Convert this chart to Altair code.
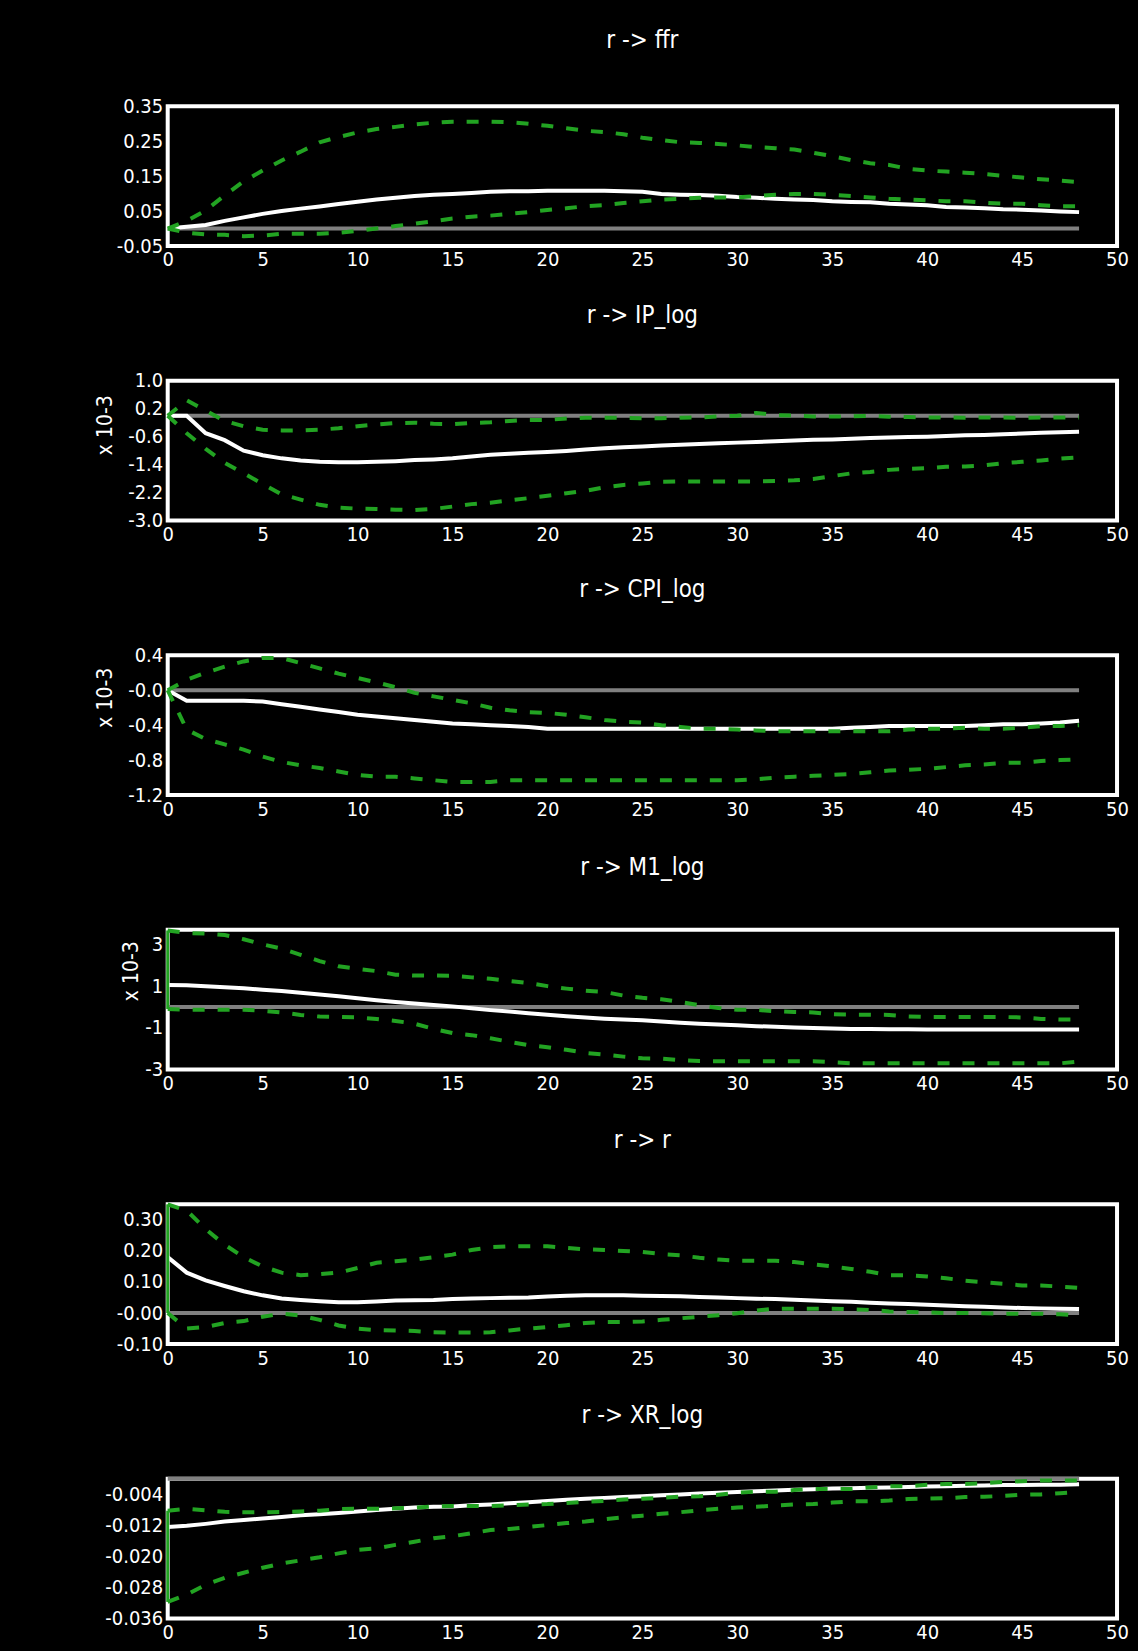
import altair as alt
import pandas as pd

HORIZON = list(range(49))
X_TICKS = [0, 5, 10, 15, 20, 25, 30, 35, 40, 45, 50]

PANEL_TITLES = ["r -> ffr", "r -> IP_log", "r -> CPI_log", "r -> M1_log", "r -> r", "r -> XR_log"]
UNIT_TITLES = ["", "x 10-3", "x 10-3", "x 10-3", "", ""]

FFR_IRF = [0.0, 0.005, 0.01, 0.022, 0.032, 0.042, 0.05, 0.057, 0.063, 0.07, 0.077, 0.083, 0.088, 0.093, 0.097, 0.099, 0.102, 0.105, 0.107, 0.107, 0.108, 0.108, 0.108,
           0.108, 0.107, 0.105, 0.099, 0.097, 0.096, 0.094, 0.090, 0.088, 0.085, 0.083, 0.082, 0.078, 0.076, 0.075, 0.071, 0.069, 0.067, 0.062, 0.06, 0.058, 0.055, 0.054, 0.052, 0.049, 0.047]
FFR_HI = [0.0, 0.022, 0.052, 0.095, 0.135, 0.166, 0.195, 0.22, 0.247, 0.262, 0.275, 0.285, 0.291, 0.298, 0.303, 0.306, 0.306, 0.306, 0.304, 0.3, 0.294, 0.287, 0.28,
          0.276, 0.27, 0.26, 0.253, 0.247, 0.245, 0.242, 0.238, 0.233, 0.23, 0.226, 0.217, 0.207, 0.196, 0.187, 0.182, 0.171, 0.166, 0.163, 0.16, 0.156, 0.151, 0.146, 0.141, 0.137, 0.133]
FFR_LO = [0.0, -0.012, -0.017, -0.018, -0.022, -0.02, -0.015, -0.015, -0.015, -0.012, -0.007, 0.0, 0.007, 0.014, 0.021, 0.029, 0.034, 0.037, 0.042, 0.047, 0.053, 0.058, 0.064,
          0.067, 0.073, 0.078, 0.083, 0.085, 0.088, 0.089, 0.089, 0.093, 0.097, 0.099, 0.099, 0.097, 0.093, 0.089, 0.085, 0.083, 0.081, 0.078, 0.078, 0.074, 0.071, 0.071, 0.067, 0.064, 0.064]

IP_IRF = [0.0, 0.0, -0.5, -0.7, -1.0, -1.13, -1.22, -1.28, -1.32, -1.33, -1.33, -1.32, -1.3, -1.27, -1.25, -1.22, -1.17, -1.12, -1.09, -1.06, -1.04, -1.01, -0.97,
          -0.93, -0.9, -0.88, -0.85, -0.83, -0.81, -0.79, -0.77, -0.75, -0.73, -0.71, -0.69, -0.68, -0.66, -0.64, -0.62, -0.61, -0.6, -0.58, -0.56, -0.55, -0.53, -0.51, -0.49, -0.47, -0.46]
IP_HI = [0.0, 0.44, 0.15, -0.15, -0.3, -0.4, -0.42, -0.42, -0.4, -0.36, -0.3, -0.25, -0.21, -0.2, -0.23, -0.24, -0.21, -0.19, -0.15, -0.12, -0.12, -0.08, -0.06,
         -0.06, -0.06, -0.07, -0.07, -0.06, -0.05, -0.02, 0.0, 0.08, 0.02, 0.0, -0.02, -0.02, -0.02, 0.0, -0.03, -0.04, -0.05, -0.05, -0.06, -0.05, -0.05, -0.06, -0.05, -0.05, -0.05]
IP_LO = [0.0, -0.5, -0.95, -1.35, -1.65, -1.95, -2.25, -2.4, -2.55, -2.63, -2.66, -2.67, -2.69, -2.7, -2.67, -2.6, -2.53, -2.49, -2.42, -2.36, -2.29, -2.22, -2.15,
         -2.05, -1.98, -1.94, -1.89, -1.88, -1.88, -1.88, -1.88, -1.88, -1.87, -1.85, -1.81, -1.73, -1.65, -1.61, -1.55, -1.52, -1.5, -1.46, -1.45, -1.42, -1.36, -1.32, -1.28, -1.23, -1.19]

CPI_IRF = [0.0, -0.12, -0.12, -0.12, -0.12, -0.13, -0.16, -0.19, -0.22, -0.25, -0.28, -0.3, -0.32, -0.34, -0.36, -0.38, -0.39, -0.4, -0.41, -0.42, -0.44, -0.44, -0.44,
           -0.44, -0.44, -0.44, -0.44, -0.44, -0.44, -0.44, -0.44, -0.44, -0.44, -0.44, -0.44, -0.44, -0.43, -0.42, -0.41, -0.41, -0.41, -0.41, -0.41, -0.4, -0.39, -0.39, -0.38, -0.37, -0.35]
CPI_HI = [0.0, 0.12, 0.2, 0.27, 0.33, 0.37, 0.37, 0.31, 0.25, 0.19, 0.14, 0.09, 0.035, -0.03, -0.07, -0.11, -0.15, -0.2, -0.23, -0.25, -0.26, -0.28, -0.31,
          -0.34, -0.36, -0.37, -0.4, -0.42, -0.44, -0.44, -0.45, -0.46, -0.47, -0.47, -0.47, -0.47, -0.47, -0.47, -0.47, -0.45, -0.44, -0.44, -0.43, -0.44, -0.44, -0.43, -0.41, -0.41, -0.4]
CPI_LO = [0.0, -0.45, -0.56, -0.62, -0.68, -0.76, -0.82, -0.86, -0.89, -0.93, -0.97, -0.99, -0.99, -1.01, -1.03, -1.05, -1.05, -1.05, -1.03, -1.03, -1.03, -1.03, -1.03,
          -1.03, -1.03, -1.03, -1.03, -1.03, -1.03, -1.03, -1.03, -1.02, -1.0, -0.99, -0.98, -0.97, -0.96, -0.94, -0.92, -0.91, -0.9, -0.88, -0.86, -0.85, -0.83, -0.83, -0.81, -0.8, -0.79]

M1_IRF = [1.05, 1.04, 1.0, 0.95, 0.9, 0.83, 0.77, 0.68, 0.6, 0.52, 0.42, 0.32, 0.24, 0.17, 0.1, 0.03, -0.06, -0.15, -0.22, -0.3, -0.37, -0.44, -0.5,
          -0.56, -0.6, -0.64, -0.7, -0.75, -0.8, -0.84, -0.88, -0.92, -0.95, -0.98, -1.01, -1.03, -1.05, -1.06, -1.07, -1.07, -1.08, -1.08, -1.08, -1.08, -1.08, -1.08, -1.08, -1.08, -1.08]
M1_HI = [3.67, 3.55, 3.52, 3.45, 3.25, 3.0, 2.8, 2.5, 2.2, 1.95, 1.83, 1.72, 1.55, 1.51, 1.51, 1.5, 1.42, 1.35, 1.25, 1.15, 1.0, 0.88, 0.78,
         0.72, 0.55, 0.44, 0.37, 0.24, 0.09, -0.05, -0.13, -0.14, -0.2, -0.24, -0.26, -0.35, -0.37, -0.37, -0.38, -0.45, -0.48, -0.48, -0.48, -0.48, -0.48, -0.5, -0.57, -0.6, -0.6]
M1_LO = [-0.1, -0.13, -0.13, -0.13, -0.13, -0.18, -0.26, -0.38, -0.46, -0.48, -0.5, -0.58, -0.67, -0.8, -1.05, -1.25, -1.35, -1.5, -1.67, -1.83, -1.93, -2.05, -2.2,
         -2.28, -2.38, -2.46, -2.48, -2.55, -2.59, -2.6, -2.6, -2.6, -2.6, -2.6, -2.6, -2.65, -2.7, -2.7, -2.7, -2.7, -2.7, -2.7, -2.7, -2.7, -2.7, -2.7, -2.7, -2.7, -2.62]

R_IRF = [0.18, 0.13, 0.105, 0.087, 0.07, 0.057, 0.047, 0.042, 0.038, 0.035, 0.035, 0.037, 0.04, 0.041, 0.042, 0.045, 0.047, 0.048, 0.049, 0.05, 0.053, 0.056, 0.057,
         0.057, 0.057, 0.056, 0.055, 0.054, 0.052, 0.05, 0.048, 0.046, 0.045, 0.043, 0.04, 0.038, 0.036, 0.033, 0.031, 0.029, 0.027, 0.024, 0.022, 0.02, 0.018, 0.016, 0.015, 0.014, 0.013]
R_HI = [0.35, 0.33, 0.27, 0.22, 0.18, 0.15, 0.13, 0.122, 0.125, 0.13, 0.145, 0.162, 0.167, 0.172, 0.18, 0.188, 0.203, 0.212, 0.215, 0.215, 0.215, 0.21, 0.205,
        0.203, 0.2, 0.197, 0.19, 0.186, 0.178, 0.172, 0.168, 0.168, 0.168, 0.164, 0.157, 0.15, 0.142, 0.133, 0.122, 0.122, 0.118, 0.112, 0.104, 0.099, 0.094, 0.089, 0.089, 0.085, 0.081]
R_LO = [0.0, -0.05, -0.045, -0.032, -0.026, -0.012, -0.002, -0.008, -0.022, -0.04, -0.05, -0.055, -0.056, -0.058, -0.062, -0.063, -0.063, -0.062, -0.056, -0.05, -0.045, -0.039, -0.032,
        -0.029, -0.029, -0.027, -0.022, -0.017, -0.012, -0.007, -0.001, 0.008, 0.014, 0.014, 0.014, 0.014, 0.012, 0.01, 0.005, 0.003, 0.002, 0.0, 0.0, -0.001, -0.002, -0.002, -0.002, -0.004, -0.008]

XR_IRF = [-0.0124, -0.0121, -0.0116, -0.011, -0.0106, -0.0102, -0.0098, -0.0094, -0.0091, -0.0088, -0.0084, -0.008, -0.0077, -0.0074, -0.0072, -0.0071, -0.0068, -0.0066, -0.0063, -0.006, -0.0057, -0.0054, -0.0051,
          -0.0049, -0.0047, -0.0045, -0.0042, -0.004, -0.0038, -0.0036, -0.0034, -0.0032, -0.003, -0.0028, -0.0027, -0.0025, -0.0024, -0.0023, -0.0022, -0.0021, -0.002, -0.0019, -0.0018, -0.0017, -0.0016, -0.0016, -0.0015, -0.0015, -0.0014]
XR_HI = [-0.0082, -0.0077, -0.0081, -0.0085, -0.0086, -0.0086, -0.0085, -0.0084, -0.0082, -0.0078, -0.0077, -0.0077, -0.0076, -0.0074, -0.0071, -0.007, -0.007, -0.007, -0.0068, -0.0066, -0.0065, -0.0062, -0.0059,
         -0.0057, -0.0053, -0.0051, -0.0049, -0.0046, -0.0045, -0.0041, -0.0036, -0.0033, -0.0033, -0.0029, -0.0026, -0.0026, -0.0026, -0.0022, -0.0019, -0.0019, -0.0015, -0.0013, -0.0013, -0.0011, -0.0008, -0.0006, -0.0004, -0.0004, -0.0004]
XR_LO = [-0.0317, -0.0298, -0.0273, -0.0255, -0.0242, -0.0229, -0.0218, -0.021, -0.0202, -0.0192, -0.0183, -0.0179, -0.017, -0.0162, -0.0153, -0.0148, -0.014, -0.0132, -0.0129, -0.0124, -0.0119, -0.0114, -0.011,
         -0.0104, -0.0099, -0.0095, -0.009, -0.0086, -0.0081, -0.0077, -0.0074, -0.0072, -0.0069, -0.0066, -0.0065, -0.0061, -0.0058, -0.0058, -0.0056, -0.0052, -0.0051, -0.005, -0.0047, -0.0046, -0.0044, -0.0041, -0.004, -0.0037, -0.0034]

Y_DOMAINS = [[-0.05, 0.35], [-3.0, 1.0], [-1.2, 0.4], [-3.0, 3.7], [-0.10, 0.35], [-0.036, 0.0]]
Y_TICKS = [
    [0.35, 0.25, 0.15, 0.05, -0.05],
    [1.0, 0.2, -0.6, -1.4, -2.2, -3.0],
    [0.4, 0.0, -0.4, -0.8, -1.2],
    [3, 1, -1, -3],
    [0.30, 0.20, 0.10, 0.0, -0.10],
    [-0.004, -0.012, -0.020, -0.028, -0.036],
]
Y_TICK_LABELS = [
    ["0.35", "0.25", "0.15", "0.05", "-0.05"],
    ["1.0", "0.2", "-0.6", "-1.4", "-2.2", "-3.0"],
    ["0.4", "-0.0", "-0.4", "-0.8", "-1.2"],
    ["3", "1", "-1", "-3"],
    ["0.30", "0.20", "0.10", "-0.00", "-0.10"],
    ["-0.004", "-0.012", "-0.020", "-0.028", "-0.036"],
]

IRFS = [FFR_IRF, IP_IRF, CPI_IRF, M1_IRF, R_IRF, XR_IRF]
HIS = [FFR_HI, IP_HI, CPI_HI, M1_HI, R_HI, XR_HI]
LOS = [FFR_LO, IP_LO, CPI_LO, M1_LO, R_LO, XR_LO]

UNIT_POS = [None, (-62, 44), (-62, 42), (-36, 41), None, None]

GREEN = "#22a322"
GRAY = "#808080"
FONT = "Liberation Sans Narrow, DejaVu Sans Condensed, Arial Narrow, sans-serif"
W, H = 951, 140


def label_expr(ticks, labels):
    expr = "''"
    for v, s in reversed(list(zip(ticks, labels))):
        expr = f"(abs(datum.value - ({v})) < 1e-9) ? '{s}' : ({expr})"
    return expr


def panel(i):
    df = pd.DataFrame({"h": HORIZON, "irf": IRFS[i], "lo": LOS[i], "hi": HIS[i]})
    x_axis = alt.Axis(values=X_TICKS, title="", grid=False, domain=False, ticks=False,
                      labelPadding=4, labelFlush=False, labelOverlap=False)
    y_kw = dict(values=Y_TICKS[i], labelExpr=label_expr(Y_TICKS[i], Y_TICK_LABELS[i]),
                grid=False, domain=False, ticks=False, labelPadding=5, labelOverlap=False)
    if UNIT_TITLES[i]:
        tx, ty = UNIT_POS[i]
        y_kw.update(title=UNIT_TITLES[i], titleAngle=270, titleX=tx, titleY=ty,
                    titleAlign="center", titleBaseline="middle")
    else:
        y_kw.update(title="")
    y_axis = alt.Axis(**y_kw)
    xs = alt.Scale(domain=[0, 50], nice=False, zero=False)
    ys = alt.Scale(domain=Y_DOMAINS[i], nice=False, zero=False)

    def X():
        return alt.X("h:Q", scale=xs, axis=x_axis)

    def Y(field):
        return alt.Y(field, scale=ys, axis=y_axis)

    base = alt.Chart(df)
    zero = base.mark_line(color=GRAY, strokeWidth=4).encode(
        x=X(), y=alt.Y(datum=0, scale=ys, axis=y_axis))
    irf = base.mark_line(color="white", strokeWidth=4).encode(x=X(), y=Y("irf:Q"))
    hi = base.mark_line(color=GREEN, strokeWidth=4, strokeDash=[12, 13]).encode(x=X(), y=Y("hi:Q"))
    lo = base.mark_line(color=GREEN, strokeWidth=4, strokeDash=[12, 13]).encode(x=X(), y=Y("lo:Q"))
    vert = alt.Chart(df.iloc[[0]]).mark_rule(color=GREEN, strokeWidth=3).encode(
        x=X(), y=Y("lo:Q"), y2="hi:Q")
    return alt.layer(zero, irf, hi, lo, vert).properties(
        width=W, height=H,
        title=alt.TitleParams(PANEL_TITLES[i], offset=43),
    )


chart = alt.vconcat(*[panel(i) for i in range(6)], spacing=135, bounds="flush").configure(
    background="black",
    padding={"left": 93, "top": 26, "right": 7, "bottom": 5},
).configure_view(
    stroke="white", strokeWidth=4, fill="black",
).configure_axis(
    labelColor="white", labelFont=FONT, labelFontSize=20, labelOverlap=False,
    titleColor="white", titleFont=FONT, titleFontSize=21, titleFontWeight="normal",
).configure_title(
    color="white", font=FONT, fontSize=24, fontWeight="normal", anchor="middle",
)

chart.save("out.html", embed_options={"renderer": "svg", "actions": False})
